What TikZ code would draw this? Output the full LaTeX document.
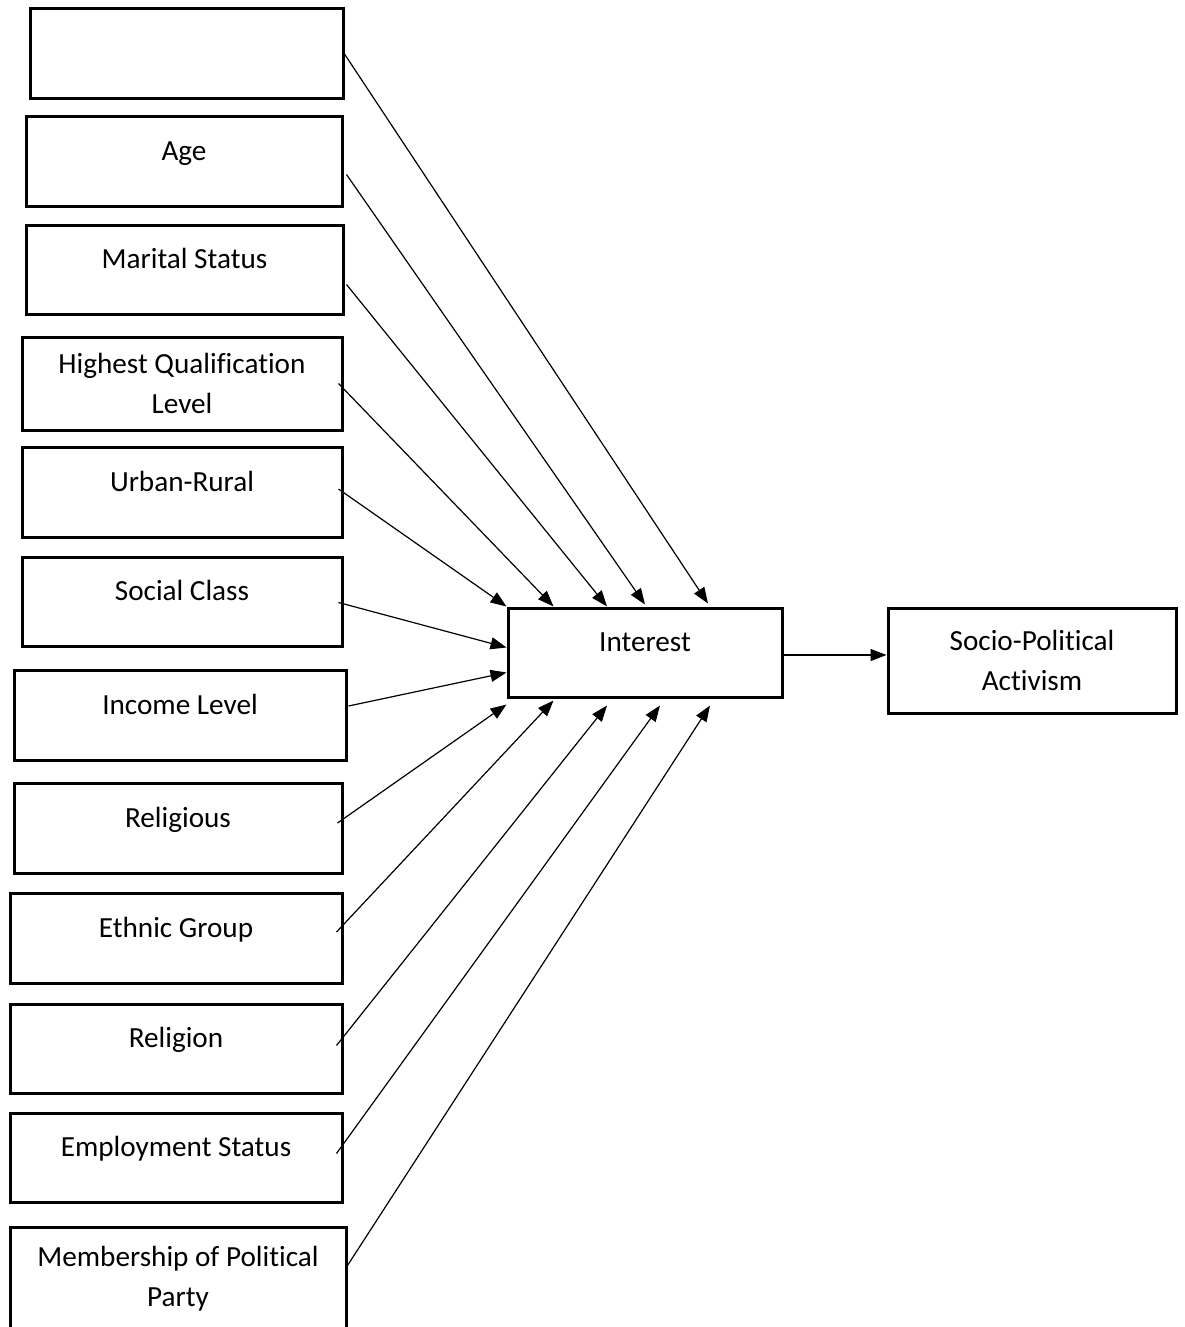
\documentclass[tikz,border=0pt]{standalone}
\usepackage{fontspec}
\setmainfont{Carlito}[Ligatures=CommonOff]
\usetikzlibrary{arrows.meta,calc,positioning}

\tikzset{
  factor/.style={draw, line width=1.5pt, minimum height=44.5pt, align=center,
    font=\fontsize{14.6}{20}\selectfont},
  oneline/.style={text height=10pt, text depth=10.6pt},
  link/.style={-{Triangle[length=8pt,width=6pt]}, line width=0.6pt}
}

\begin{document}
\begin{tikzpicture}[x=0.5pt, y=-0.5pt]
  \useasboundingbox (0,0) rectangle (1184,1327);
  % explanatory variables
  \node[factor, minimum width=156.5pt, minimum height=45pt] (blank) at (186.5,54) {};
  \node[factor, oneline, minimum width=158pt] (age) at (184,161.5) {Age};
  \node[factor, oneline, minimum width=158.5pt] (marital) at (184.5,269.5) {Marital Status};
  \node[factor, minimum width=160pt, minimum height=46.5pt] (qual) at (182,383.5) {Highest Qualification\\Level};
  \node[factor, oneline, minimum width=160pt, minimum height=45pt] (urban) at (182,492) {Urban-Rural};
  \node[factor, oneline, minimum width=160pt] (class) at (182,601.5) {Social Class};
  \node[factor, oneline, minimum width=166pt, minimum height=45pt] (income) at (180,715) {Income Level};
  \node[factor, oneline, minimum width=164pt, minimum height=45pt] (religious) at (178,828) {Religious};
  \node[factor, oneline, minimum width=166pt, minimum height=45pt] (ethnic) at (176,938) {Ethnic Group};
  \node[factor, oneline, minimum width=166pt] (religion) at (176,1048.5) {Religion};
  \node[factor, oneline, minimum width=166pt] (employ) at (176,1157.5) {Employment Status};
  \node[factor, minimum width=168pt, minimum height=52pt] (party) at (178,1279) {Membership of Political\\Party};
  % mediator and outcome
  \node[factor, oneline, minimum width=137pt] (interest) at (645,652.5) {Interest};
  \node[factor, minimum width=144pt, minimum height=52.5pt] (activism) at (1032,660.5) {Socio-Political\\Activism};

  \path[link]
    (blank.east) edge ($(interest.north)+(63,-3)$)
    ($(age.east)+(3,13)$) edge ($(interest.north)+(0,-2)$)
    ($(marital.east)+(2,15)$) edge ($(interest.north)+(-38,0)$)
    ($(qual.east)+(-5,0)$) edge ($(interest.north west)+(47,0)$)
    ($(urban.east)+(-5,-3)$) edge (interest.north west)
    ($(class.east)+(-5,1)$) edge ($(interest.west)+(0,-5)$)
    ($(income.east)+(1,-9)$) edge ($(interest.west)+(0,20)$)
    ($(religious.east)+(-6,-5)$) edge ($(interest.south west)+(0,6)$)
    ($(ethnic.east)+(-7,-6)$) edge ($(interest.south west)+(47,2)$)
    ($(religion.east)+(-7,-3)$) edge ($(interest.south)+(-38,7)$)
    ($(employ.east)+(-7,-4)$) edge ($(interest.south)+(15,7)$)
    ($(party.east)+(-1,-12)$) edge ($(interest.south)+(65,7)$);
  \draw[link] ($(interest.east)+(0,2.5)$) -- ($(interest.east -| activism.west)+(0,2.5)$);
\end{tikzpicture}
\end{document}
